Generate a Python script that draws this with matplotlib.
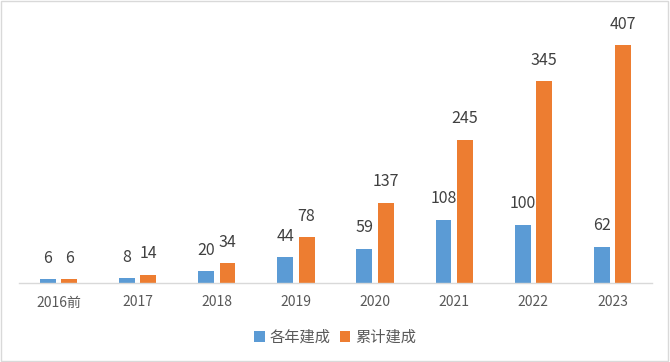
import matplotlib
matplotlib.use("Agg")
import matplotlib.pyplot as plt
from matplotlib.patches import Rectangle
import numpy as np

plt.rcParams['font.family'] = ['Noto Sans CJK SC', 'DejaVu Sans']

categories = ["2016前", "2017", "2018", "2019", "2020", "2021", "2022", "2023"]
annual = [6, 8, 20, 44, 59, 108, 100, 62]
cumulative = [6, 14, 34, 78, 137, 245, 345, 407]
series_names = ["各年建成", "累计建成"]

blue = "#5B9BD5"
orange = "#ED7D31"
text_color = "#404040"

fig = plt.figure(figsize=(6.7, 3.62), dpi=100)
fig.patches.append(Rectangle((0.002, 0.003), 0.995, 0.993, transform=fig.transFigure,
                             fill=False, edgecolor="#D9D9D9", linewidth=1.0))
ax = fig.add_axes([19/670, 79/362, 633/670, 263/362])

x = np.arange(len(categories))
w = 0.2
b1 = ax.bar(x - 0.135, annual, width=w, color=blue, label=series_names[0])
b2 = ax.bar(x + 0.135, cumulative, width=w, color=orange, label=series_names[1])

for bars, vals in ((b1, annual), (b2, cumulative)):
    for r, v in zip(bars, vals):
        ax.annotate(str(v), (r.get_x() + r.get_width()/2, r.get_height()),
                    xytext=(0, 9), textcoords="offset points", ha="center", va="bottom",
                    fontsize=11.5, color=text_color)

ax.set_xlim(-0.5, len(categories) - 0.5)
ax.set_ylim(0, 450)
ax.set_yticks([])
ax.set_xticks(x)
ax.set_xticklabels(categories, fontsize=10, color="#595959")
ax.tick_params(axis="x", length=0, pad=9)
for s in ("top", "right", "left"):
    ax.spines[s].set_visible(False)
ax.spines["bottom"].set_color("#D9D9D9")
ax.spines["bottom"].set_linewidth(1.0)

leg = fig.legend(loc="center", bbox_to_anchor=(0.5, 25/362), ncol=2, frameon=False,
                 fontsize=11, handlelength=0.7, handleheight=0.7, handletextpad=0.3,
                 columnspacing=0.6)
for t in leg.get_texts():
    t.set_color("#595959")

fig.savefig("out.png", dpi=100)
